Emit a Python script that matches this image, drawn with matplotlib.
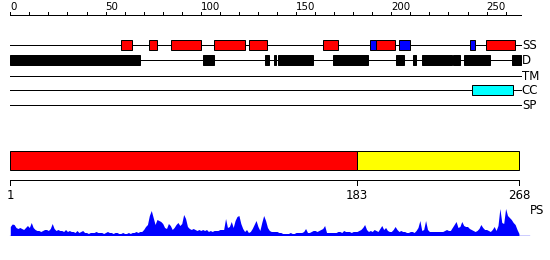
import matplotlib
matplotlib.use("Agg")
import matplotlib.pyplot as plt
from matplotlib.patches import Rectangle
import numpy as np

# ---------------- data ----------------
seq_len = 268
ruler_major = [0, 50, 100, 150, 200, 250]
ruler_minor = list(range(0, 261, 10))

track_names = ["SS", "D", "TM", "CC", "SP"]

ss_helix = [(58, 64), (73, 77), (84.5, 100), (107, 123), (125.5, 134.5),
            (164, 172), (192, 202), (249.5, 265)]
ss_strand = [(189, 192), (204, 210), (241.5, 244)]
disorder = [(0, 68), (101, 107), (133.7, 135.8), (138.3, 139.5), (140.7, 158.7),
            (169.6, 187.6), (202.5, 206.7), (211.3, 212.9), (216, 231.9),
            (232.4, 236), (238.2, 251.8), (263.4, 268)]
transmembrane = []
coiled_coil = [(242.5, 263.7)]
signal_peptide = []

domain_bounds = [1, 183, 268]
domain_colors = ["#ff0000", "#ffff00"]

ps_values = [
    9, 11.5, 11, 8, 7, 8, 7, 6, 8, 10, 8, 13, 8, 6, 5, 5, 4, 5, 6, 6,
    5, 7, 12, 7, 5, 6, 5, 5, 4, 6, 4, 5, 4, 4, 3, 5, 3, 4, 5, 3,
    3, 2, 3, 3, 3, 4, 3, 3, 3, 2, 3, 4, 3, 3, 2, 3, 3, 2, 2, 3,
    2, 2, 3, 2, 3, 3, 4, 3, 4, 4, 6, 9, 11, 20, 25, 18, 11, 16, 15, 14,
    12, 8, 7, 12, 10, 6, 8, 11, 13, 10, 12, 21, 17, 9, 7, 6, 7, 6, 5, 6,
    5, 6, 5, 6, 4, 5, 4, 5, 5, 5, 6, 6, 6, 17, 8, 9, 14, 8, 15, 19,
    20, 12, 7, 4, 6, 3, 4, 7, 11, 15, 9, 5, 13, 20, 15, 8, 5, 4, 4, 4,
    4, 3, 3, 2, 2, 2, 2, 3, 2, 2, 3, 3, 3, 3, 4, 7, 3, 3, 4, 5,
    5, 4, 5, 6, 7, 10, 3, 3, 3, 3, 3, 3, 4, 4, 3, 5, 4, 4, 4, 3,
    4, 4, 4, 5, 6, 8, 11, 6, 4, 5, 4, 6, 5, 4, 7, 10, 6, 8, 5, 4,
    4, 6, 9, 6, 4, 5, 4, 4, 3, 3, 4, 4, 3, 5, 8, 15, 5, 6, 15, 6,
    4, 4, 4, 4, 4, 4, 4, 4, 5, 6, 5, 5, 8, 11, 14, 8, 9, 14, 10, 9,
    9, 7, 6, 5, 4, 5, 7, 11, 8, 6, 6, 5, 4, 6, 9, 5, 10, 27, 13, 12,
    27, 20, 18, 16, 13, 11, 6, 2,
]
ps_label = "PS"

# ---------------- layout ----------------
W, H = 550, 260
px_per_res = 1.905
x0 = -10.3 / px_per_res
x1 = x0 + W / px_per_res
lw = 0.72

fig = plt.figure(figsize=(W / 100, H / 100), dpi=100)
plt.rcParams['font.family'] = ['DejaVu Sans']

ax = fig.add_axes([0, 0, 1, 1])
ax.set_xlim(x0, x1)
ax.set_ylim(H, 0)
ax.axis("off")

# top ruler
ruler_y = 15
ax.plot([0, seq_len], [ruler_y, ruler_y], color="black", lw=lw)
for t in ruler_minor:
    ax.plot([t, t], [ruler_y, ruler_y - 3], color="black", lw=lw)
for t in ruler_major:
    ax.text(t, 6.5, str(t), ha="left", va="center", fontsize=7.4)

# tracks
track_y = [45, 60, 75.5, 90, 105]
box_h = 10
for name, y in zip(track_names, track_y):
    ax.plot([0, seq_len], [y, y], color="black", lw=lw, zorder=1)
    ax.text(seq_len + 0.5, y + 0.5, name, ha="left", va="center", fontsize=8.5)


def draw_boxes(segs, y, color):
    for a, b in segs:
        ax.add_patch(Rectangle((a, y - box_h / 2), b - a, box_h,
                               facecolor=color, edgecolor="black", lw=lw, zorder=2))


draw_boxes(ss_helix, track_y[0], "#ff0000")
draw_boxes(ss_strand, track_y[0], "#0000ff")
draw_boxes(disorder, track_y[1], "black")
draw_boxes(transmembrane, track_y[2], "#808080")
draw_boxes(coiled_coil, track_y[3], "#00ffff")
draw_boxes(signal_peptide, track_y[4], "#808080")

# bottom axes (1-based residue numbering)
axb = fig.add_axes([0, 0, 1, 1])
axb.set_xlim(x0 + 1, x1 + 1)
axb.set_ylim(H, 0)
axb.axis("off")
axb.patch.set_alpha(0)

bar_top, bar_bot = 150.7, 170
for (a, b), c in zip(zip(domain_bounds[:-1], domain_bounds[1:]), domain_colors):
    axb.add_patch(Rectangle((a, bar_top), b - a, bar_bot - bar_top,
                            facecolor=c, edgecolor="black", lw=lw))

r2_y = 180.3
axb.plot([domain_bounds[0], domain_bounds[-1]], [r2_y, r2_y], color="black", lw=lw)
for t in domain_bounds:
    axb.plot([t, t], [r2_y, r2_y + 5], color="black", lw=lw)
    axb.text(t, 195.5, str(t), ha="center", va="center", fontsize=8.5)

# profile
base_px = 235.5
prof_h = 32
axp = fig.add_axes([0, (H - base_px) / H, 1, prof_h / H])
axp.set_xlim(x0 + 1, x1 + 1)
axp.set_ylim(0, prof_h)
axp.axis("off")
axp.patch.set_alpha(0)
res = np.arange(1, len(ps_values) + 1)
axp.fill_between(res, 0, ps_values, color="#0000ff", lw=0)
axp.plot([1, seq_len + 5.5], [0, 0], color="#0000ff", lw=1.0)
axb.text(seq_len + 5.5, 211, ps_label, ha="left", va="center", fontsize=8.5)

fig.savefig("out.png", dpi=100)
